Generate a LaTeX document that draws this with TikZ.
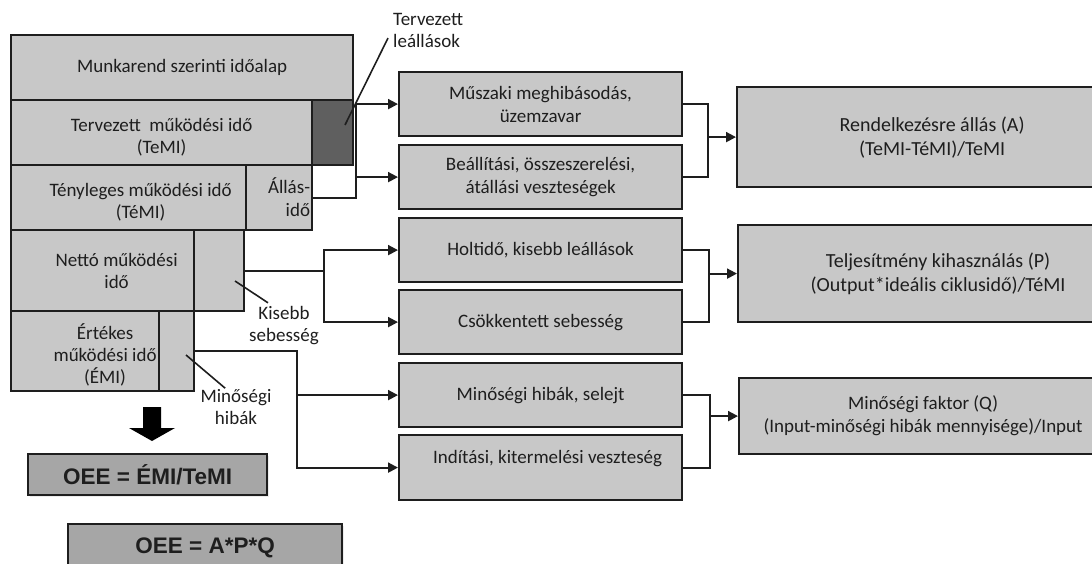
\documentclass[tikz,border=0pt]{standalone}
\usepackage{fontspec}
\setmainfont{Carlito}
\newfontfamily\oeefont{Liberation Sans}
\usetikzlibrary{arrows.meta,shadows}
\definecolor{Micolor1}{RGB}{200,200,200}
\definecolor{Micolor2}{RGB}{95,95,95}
\definecolor{Micolor3}{RGB}{166,166,166}
\definecolor{Micolor4}{RGB}{30,30,30}

\tikzset{
 doboz/.style={draw=Micolor4,line width=2.2pt,fill=Micolor1,inner sep=0pt,anchor=north west,
   align=center,text=Micolor4,font=\fontsize{19}{23}\selectfont},
 meret/.style 2 args={minimum width=#1pt,minimum height=#2pt},
 felirat/.style={text=Micolor4,align=center,inner sep=1pt,font=\fontsize{19}{22}\selectfont},
 nagy/.style={font=\fontsize{20}{24}\selectfont},
 oee/.style={doboz,fill=Micolor3,font=\oeefont\bfseries\fontsize{22.5}{26}\selectfont,
   drop shadow={opacity=0.15,shadow xshift=2pt,shadow yshift=-2pt}},
 vonal/.style={draw=Micolor4,line width=2pt},
 nyil/.style={vonal,-{Triangle[length=10pt,width=10pt]}},
 mutato/.style={draw=Micolor4,line width=1.6pt}
}

\begin{document}
\begin{tikzpicture}[x=1pt,y=-1pt]
\useasboundingbox (0,0) rectangle (1092,564);

\node[doboz,meret={342}{65}] (munk) at (10,34) {Munkarend szerinti időalap};
\node[doboz,meret={301}{65},label={[felirat,yshift=-5pt]center:{Tervezett~ működési idő\\(TeMI)}}] (terv) at (10,99) {};
\node[doboz,fill=Micolor2,meret={41}{65}] (tleall) at (311,99) {};
\node[doboz,meret={235}{65},label={[felirat,xshift=12pt,yshift=-5pt]center:{Tényleges működési idő\\(TéMI)}}] (teny) at (10,164) {};
\node[doboz,meret={66}{65},text width=62pt,align=right] (allas) at (245,164) {Állás-\\idő};
\node[doboz,meret={183}{81},label={[felirat,xshift=14pt]center:{Nettó működési\\idő}}] (netto) at (10,229) {};
\node[doboz,meret={50}{81}] (nsebes) at (193,229) {};
\node[doboz,meret={148}{80},label={[felirat,xshift=20pt,yshift=-4pt]center:{Értékes\\működési idő\\(ÉMI)}}] (ertek) at (10,310) {};
\node[doboz,meret={35}{80}] (mhiba) at (158,310) {};

\foreach \nev/\y/\szoveg in {musz/71/{Műszaki meghibásodás,\\üzemzavar},
  beall/144/{Beállítási, összeszerelési,\\átállási veszteségek},
  holt/217/{Holtidő, kisebb leállások},csokk/289/{Csökkentett sebesség},
  minh/362/{Minőségi hibák, selejt}}
\node[doboz,meret={283}{64}] (\nev) at (398,\y) {\szoveg};
\node[doboz,meret={283}{65},label={[felirat,xshift=7pt,yshift=9pt]center:{Indítási, kitermelési veszteség}}] (indit) at (398,434) {};

\node[doboz,nagy,meret={390}{100}] (rend) at (736,86) {Rendelkezésre állás (A)\\(TeMI-TéMI)/TeMI};
\node[doboz,nagy,meret={400}{97}] (telj) at (737,224) {Teljesítmény kihasználás (P)\\(Output*ideális ciklusidő)/TéMI};
\node[doboz,meret={368}{76}] (minf) at (738,377) {Minőségi faktor (Q)\\(Input-minőségi hibák mennyisége)/Input};

\node[oee,meret={239}{41}] (oee1) at (27,453) {OEE = ÉMI/TeMI};
\node[oee,meret={274}{48}] (oee2) at (67,523) {OEE = A*P*Q};
\fill[black] (143,407) -- (161,407) -- (161,428) -- (175,428) -- (152,441) -- (129,428) -- (143,428) -- cycle;

\node[felirat,align=left,anchor=west] (tl) at (392,30) {Tervezett\\leállások};
\node[felirat] (ks) at (284,326) {Kisebb\\sebesség};
\node[felirat] (mh) at (236,407) {Minőségi\\hibák};
\coordinate (tpont) at (345,125);
\coordinate (kpont) at (235,281);
\coordinate (mpont) at (186,355);
\draw[mutato,shorten <=9pt] (tl.west) -- (tpont);
\draw[mutato,shorten <=5pt] (ks.120) -- (kpont);
\draw[mutato] (mh.120) -- (mpont);

\draw[nyil] (allas.east) -- ++(43,0) |- (musz.west);
\draw[nyil] ([xshift=43pt]allas.east) |- (beall.west);
\draw[nyil] (nsebes.east) -- ++(79,0) |- (holt.west);
\draw[nyil] ([xshift=79pt]nsebes.east) |- (csokk.west);
\draw[nyil] (mhiba.east) -- ++(102,0) |- (minh.west);
\draw[nyil] ([xshift=102pt]mhiba.east) |- (indit.west);

\foreach \a/\b/\c in {musz/beall/rend,holt/csokk/telj,minh/indit/minf}{
\coordinate (j\c) at ([xshift=-28pt]\c.west);
\draw[vonal] (\a.east) -| (j\c) |- (\b.east);
\draw[nyil] (j\c) -- (\c.west);
}
\end{tikzpicture}
\end{document}
